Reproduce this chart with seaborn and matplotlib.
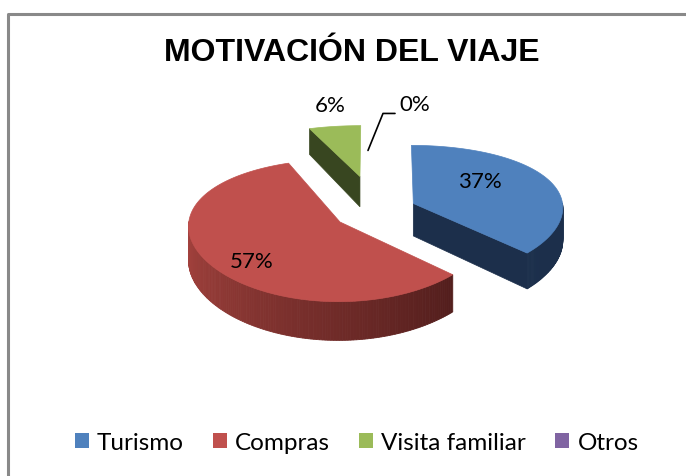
import numpy as np
import matplotlib
matplotlib.use('agg')
import matplotlib.pyplot as plt
from matplotlib.patches import Polygon, Patch
from matplotlib.colors import to_rgb
import seaborn as sns

categories = ['Turismo', 'Compras', 'Visita familiar', 'Otros']
values = [37, 57, 6, 0]
pct_labels = ['37%', '57%', '6%', '0%']
title = 'MOTIVACIÓN DEL VIAJE'

# styling
top_colors = ['#4F81BD', '#C0504D', '#9BBB59', '#8064A2']
side_light = ['#22395A', '#A8443F', '#415124', '#4B3A60']
side_dark = ['#1C2F4B', '#4A1A19', '#384620', '#3E3050']
explode = [0.28, 0.28, 0.55, 0.3]
label_r = [0.5, 0.7, 1.25, 0.75]
label_nudge = [(-1, -10), (2, 10), (1, -11), (-7, 2)]  # px

sns.set_style('white')
plt.rcParams['font.family'] = ['Lato', 'DejaVu Sans']
plt.rcParams['text.color'] = 'black'

fig = plt.figure(figsize=(6.86, 4.77), dpi=100)
ax = fig.add_axes([0, 0, 1, 1])
ax.set_xlim(0, 686)
ax.set_ylim(477, 0)
ax.axis('off')

# chart border (top and left only visible)
ax.plot([8, 8, 686], [477, 15, 15], color='#898989', lw=2.2, solid_capstyle='butt')

CX, CY, RX, RY, PERS, H = 375, 212, 150, 68.5, 8.5, 33


def proj(X, Y, z):
    sx = CX + RX * X * (1 - 0.05 * Y)
    sy = CY - RY * Y + PERS * Y * Y + z * H * (1 - 0.15 * Y)
    return sx, sy


def mix(c1, c2, t):
    a, b = np.array(to_rgb(c1)), np.array(to_rgb(c2))
    return tuple(a + (b - a) * t)


total = sum(values)
cum = np.concatenate([[0], np.cumsum(values)])
t1 = 90 - cum[:-1] / total * 360   # ccw end of slice
t2 = 90 - cum[1:] / total * 360    # cw end of slice
mids = (t1 + t2) / 2

# back-to-front drawing order
order = sorted(range(len(values)), key=lambda i: -np.sin(np.radians(mids[i])) * explode[i])

for i in order:
    m = np.radians(mids[i])
    ex, ey = explode[i] * np.cos(m), explode[i] * np.sin(m)
    if values[i] > 0:
        a = np.radians(np.linspace(t2[i], t1[i], 200))
        z = 2 + i * 0.01
        # radial faces
        for ang, vis in [(np.radians(t1[i]), np.cos(np.radians(t1[i])) < -1e-6),
                         (np.radians(t2[i]), np.cos(np.radians(t2[i])) > 1e-6)]:
            if vis:
                pts = [proj(ex, ey, 0), proj(ex + np.cos(ang), ey + np.sin(ang), 0),
                       proj(ex + np.cos(ang), ey + np.sin(ang), 1), proj(ex, ey, 1)]
                ax.add_patch(Polygon(pts, closed=True, fc=side_dark[i], ec=side_dark[i],
                                     lw=0.5, zorder=z))
        # outer side, shaded across the front
        for k in range(len(a) - 1):
            am = (a[k] + a[k + 1]) / 2
            if np.sin(am) >= 0:
                continue
            tt = np.clip((np.degrees(am) % 360 - 180) / 150, 0, 1)
            col = mix(side_light[i], side_dark[i], tt)
            pts = [proj(ex + np.cos(a[k]), ey + np.sin(a[k]), 0),
                   proj(ex + np.cos(a[k + 1]), ey + np.sin(a[k + 1]), 0),
                   proj(ex + np.cos(a[k + 1]), ey + np.sin(a[k + 1]), 1),
                   proj(ex + np.cos(a[k]), ey + np.sin(a[k]), 1)]
            ax.add_patch(Polygon(pts, closed=True, fc=col, ec=col, lw=0.6, zorder=z))
        # top face
        pts = [proj(ex, ey, 0)] + [proj(ex + np.cos(t), ey + np.sin(t), 0) for t in a]
        ax.add_patch(Polygon(pts, closed=True, fc=top_colors[i], ec=top_colors[i],
                             lw=0.5, zorder=z + 0.005))

    lx, ly = proj(ex + label_r[i] * np.cos(m), ey + label_r[i] * np.sin(m), 0)
    lx, ly = lx + label_nudge[i][0], ly + label_nudge[i][1]
    if values[i] == 0:
        # leader line for empty slice
        ax.plot([lx, lx + 15, lx + 27], [ly, ly - 37, ly - 37], color='black', lw=1.2, zorder=5)
        ax.text(lx + 31, ly - 46, pct_labels[i], fontsize=16, ha='left', va='center', zorder=6)
    else:
        ax.text(lx, ly, pct_labels[i], fontsize=16, ha='center', va='center', zorder=6)

ax.text(352, 53, title, fontsize=23, fontweight='bold', ha='center', va='center',
        family=['Liberation Sans Narrow', 'Liberation Sans', 'DejaVu Sans'])

handles = [Patch(facecolor=c, edgecolor='none') for c in top_colors]
fig.legend(handles, categories, loc='center', bbox_to_anchor=(0.52, 1 - 444 / 477),
           ncol=4, frameon=False, fontsize=17.5, handlelength=0.58, handleheight=0.58,
           handletextpad=0.33, columnspacing=1.2)

fig.savefig('out.png', dpi=100)
